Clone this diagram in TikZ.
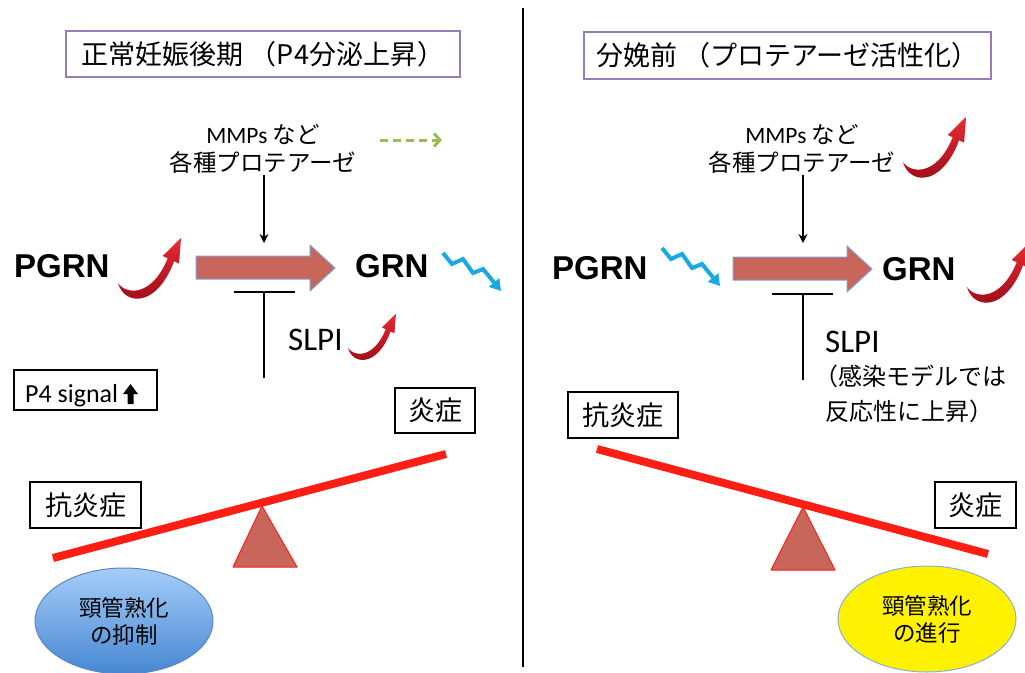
\documentclass[tikz,border=0pt]{standalone}
\usepackage{fontspec}
\setmainfont{Carlito}
\newfontfamily\jp{Noto Sans CJK JP}
\newfontfamily\headfont{Liberation Sans}
\usetikzlibrary{arrows.meta,shapes.geometric}

\definecolor{titleborder}{RGB}{150,125,185}
\definecolor{arrowfill}{RGB}{200,102,92}
\definecolor{arrowedge}{RGB}{130,160,210}
\definecolor{beamred}{RGB}{255,30,20}
\definecolor{zigblue}{RGB}{25,170,225}
\definecolor{dashgreen}{RGB}{155,187,89}
\definecolor{swooshdark}{RGB}{150,10,22}
\definecolor{swooshlight}{RGB}{232,42,52}
\definecolor{ellblueT}{RGB}{165,205,248}
\definecolor{ellblueB}{RGB}{70,135,210}
\definecolor{ellblueE}{RGB}{95,135,195}
\definecolor{ellyellowE}{RGB}{140,175,210}

\tikzset{
  % red "rising" swoosh, tail at the pic origin
  swoosh/.pic={
    \begin{scope}[yscale=-1]
      \shade[top color=swooshlight, bottom color=swooshdark]
        (0,0) .. controls (6,-22) and (38,-26) .. (56.1,21.7)
        -- (61.1,19.4) -- (63,45) -- (44.7,27) -- (49.7,24.7)
        .. controls (34,-14) and (8,-12) .. cycle;
    \end{scope}
  },
  % blue "falling" zigzag
  zigzag/.pic={
    \draw[zigblue, line width=4pt, line join=miter,
          -{Triangle[length=11pt,width=13pt]}]
      (0,0) -- (9,11) -- (20,6) -- (30,20) -- (40,16) -- (58,38);
  },
  % broad processing arrow PGRN -> GRN
  bigarrow/.pic={
    \filldraw[fill=arrowfill, draw=arrowedge, line width=1pt, line join=miter]
      (0,0) -- (114,0) -- (114,-11) -- (139,12) -- (114,35) -- (114,23)
      -- (0,23) -- cycle;
  }
}

\begin{document}
\begin{tikzpicture}[x=1pt,y=-1pt,
  titlebox/.style={draw=titleborder, line width=2.5pt, inner sep=0pt,
    font=\jp\fontsize{27}{30}\selectfont},
  tagbox/.style={draw=black, line width=2pt, inner sep=0pt,
    font=\jp\fontsize{27}{30}\selectfont},
  gene/.style={font=\headfont\bfseries\fontsize{33}{36}\selectfont,
    inner sep=0pt, anchor=base west},
  protease/.style={align=center, inner sep=1pt,
    font=\fontsize{23.5}{28}\selectfont},
  slpi/.style={font=\fontsize{33}{36}\selectfont, inner sep=0pt,
    anchor=base west},
  link/.style={line width=2pt, draw=black},
  linkarrow/.style={link, -{Stealth[length=9pt,width=9pt]}},
  beam/.style={draw=beamred, line width=8pt},
  fulcrum/.style={fill=arrowfill, draw=beamred, line width=1pt,
    line join=round},
  outcome/.style={ellipse, minimum width=178pt, minimum height=106pt,
    align=center, inner sep=0pt, font=\jp\fontsize{22.5}{27}\selectfont},
  hint/.style={draw=dashgreen, line width=3pt, dash pattern=on 8pt off 5pt,
    -{Straight Barb[length=6pt,width=13pt]}}
]
\useasboundingbox (0,0) rectangle (1025,672);
\clip (0,0) rectangle (1025,672);
\fill[white] (0,0) rectangle (1025,672);

% dividing line between the two stages
\draw[line width=2pt] (523,8) -- (523,667);

% ---------------- left: late normal pregnancy ----------------
\node[titlebox, minimum width=394pt, minimum height=46pt] (titleL)
  at (263,54) {正常妊娠後期 （P4分泌上昇）};

\node[protease] (mmpL) at (263,149) {MMPs\ {\jp など}\\{\jp 各種プロテアーゼ}};
\coordinate (gs) at (380,140);
\coordinate (ge) at (442,140);
\draw[hint] (gs) -- (ge);

\coordinate (dnL) at (264,243);
\draw[linkarrow] (mmpL.south -| dnL) -- (dnL);

\node[gene] (pgrnL) at (14,277) {PGRN};
\node[gene] (grnL) at (355,277) {GRN};
\pic at (196,256) {bigarrow};
\pic at (118,283) {swoosh};
\pic at (443,253) {zigzag};

\coordinate (barL) at (264,292);
\coordinate (footL) at (264,378);
\draw[link] (footL) -- (barL);
\draw[link] ([xshift=-30pt]barL) -- ([xshift=31pt]barL);

\node[slpi] (slpiL) at (288,350) {SLPI};
\pic[scale=0.76] at (348,348) {swoosh};

\node[tagbox, minimum width=143pt, minimum height=40pt] (p4) at (85.5,390) {};
\node[anchor=base west, inner sep=0pt, font=\fontsize{26}{30}\selectfont]
  (p4text) at (25,402) {P4 signal};
\fill (123,394) -- (130.5,384) -- (138,394) -- (133.5,394) -- (133.5,404)
  -- (127.5,404) -- (127.5,394) -- cycle;

\node[tagbox, minimum width=80pt, minimum height=45pt] (enL) at (435,410.5) {炎症};
\node[tagbox, minimum width=111pt, minimum height=46pt] (koL) at (85.5,505) {抗炎症};

\draw[beam] (53,558) -- (446,454);
\filldraw[fulcrum] (262,506) -- (297,567) -- (233,567) -- cycle;

\node[outcome, top color=ellblueT, bottom color=ellblueB, draw=ellblueE,
  line width=1pt] (ripeL) at (124,621) {頸管熟化\\の抑制};

% ---------------- right: before delivery ----------------
\node[titlebox, minimum width=407pt, minimum height=47pt] (titleR)
  at (787.5,55.5) {分娩前 （プロテアーゼ活性化）};

\node[protease] (mmpR) at (802,149) {MMPs\ {\jp など}\\{\jp 各種プロテアーゼ}};
\pic at (903,162) {swoosh};

\coordinate (dnR) at (803,243);
\draw[linkarrow] (mmpR.south -| dnR) -- (dnR);

\node[gene] (pgrnR) at (552,279) {PGRN};
\node[gene] (grnR) at (882,280) {GRN};
\pic at (733,257) {bigarrow};
\pic at (662,248) {zigzag};
\pic at (967,287) {swoosh};

\coordinate (barR) at (803,294);
\coordinate (footR) at (803,380);
\draw[link] (footR) -- (barR);
\draw[link] ([xshift=-31pt]barR) -- ([xshift=30pt]barR);

\node[slpi] (slpiR) at (825,352) {SLPI};
\node[anchor=west, align=left, inner sep=0pt, font=\jp\fontsize{24}{35}\selectfont]
  (noteR) at (825,394) {\hspace*{-11pt}（感染モデルでは\\反応性に上昇）};

\node[tagbox, minimum width=110pt, minimum height=46pt] (koR) at (623,415) {抗炎症};
\node[tagbox, minimum width=81pt, minimum height=46pt] (enR) at (975.5,505) {炎症};

\draw[beam] (597,449) -- (988,554);
\filldraw[fulcrum] (803,507) -- (835,570) -- (771,570) -- cycle;

\node[outcome, fill=yellow, draw=ellyellowE, line width=1pt]
  (ripeR) at (927,619) {頸管熟化\\の進行};
\end{tikzpicture}
\end{document}
